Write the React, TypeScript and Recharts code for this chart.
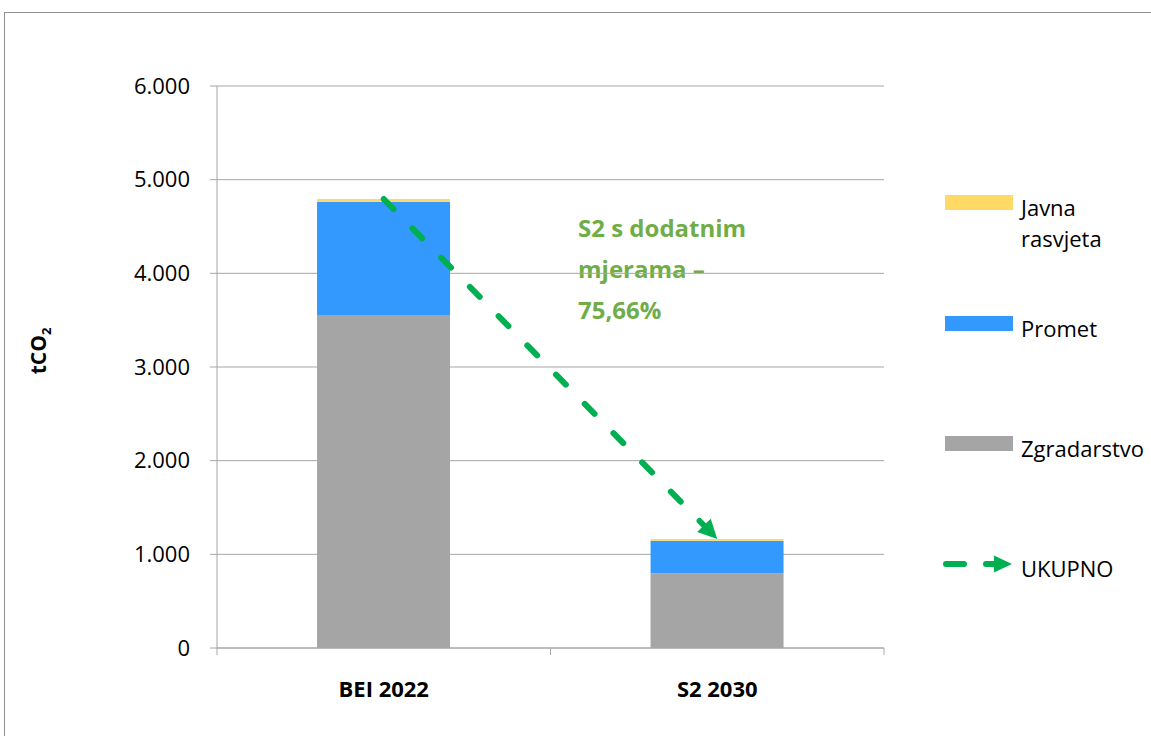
import React from 'react'
import { ComposedChart, Bar, Line, XAxis, YAxis, CartesianGrid } from 'recharts'

const categories = ['BEI 2022', 'S2 2030']
const zgradarstvo = [3555, 797]
const promet = [1210, 348]
const javnaRasvjeta = [28, 19]
const ukupno = [4793, 1164]
const yTicks = [0, 1000, 2000, 3000, 4000, 5000, 6000]

const seriesNames = ['Javna rasvjeta', 'Promet', 'Zgradarstvo', 'UKUPNO']
const seriesColors = ['#FFD966', '#3399FF', '#A5A5A5', '#00B050']
const annotationLines = ['S2 s dodatnim', 'mjerama –', '75,66%']

const FONT = '"Open Sans", Lato, sans-serif'
const GRID = '#a6a6a6'

const data = categories.map((name, i) => ({
  name,
  zgradarstvo: zgradarstvo[i],
  promet: promet[i],
  javna: javnaRasvjeta[i],
  ukupno: ukupno[i],
}))

const fmt = (v: number) => String(v).replace(/\B(?=(\d{3})+(?!\d))/g, '.')

// category label in the middle, tick marks on the band edges (like Excel)
function CategoryTick(props: any) {
  const { x, y, payload } = props
  const half = payload.offset || 0
  return (
    <g>
      <line x1={x - half} x2={x - half} y1={y} y2={y + 7} stroke={GRID} />
      <line x1={x + half} x2={x + half} y1={y} y2={y + 7} stroke={GRID} />
      <text x={x} y={y + 49} textAnchor="middle" fontFamily={FONT} fontWeight={700} fontSize={22} fill="#000">
        {payload.value}
      </text>
    </g>
  )
}

function ArrowDot(props: any) {
  const { cx, cy, index, points } = props
  if (index !== data.length - 1 || !points || points.length < 2) return <g key={`d-${index}`} />
  const prev = points[index - 1]
  const dx = cx - prev.x
  const dy = cy - prev.y
  const len = Math.sqrt(dx * dx + dy * dy)
  const ux = dx / len
  const uy = dy / len
  const bx = cx - ux * 19
  const by = cy - uy * 19
  const px = -uy * 9.5
  const py = ux * 9.5
  return (
    <polygon
      key={`d-${index}`}
      points={`${cx},${cy} ${bx + px},${by + py} ${bx - px},${by - py}`}
      fill={seriesColors[3]}
    />
  )
}

function YTitle() {
  return (
    <text transform="translate(46,351) rotate(-90)" textAnchor="middle" fontFamily={FONT} fontWeight={700} fontSize={21} fill="#000">
      tCO<tspan fontSize={13} dy={5}>2</tspan>
    </text>
  )
}

const legendTops = [195, 316, 436, 564]

export default function App() {
  return (
    <div style={{ position: 'fixed', left: 0, top: 0, width: 1151, height: 736, overflow: 'hidden', background: '#fff' }}>
      <div style={{ position: 'absolute', left: 4, top: 12, width: 1200, height: 800, borderLeft: '1px solid #909090', borderTop: '1px solid #909090' }} />

      <div
        style={{
          position: 'absolute',
          left: 578,
          top: 207,
          fontFamily: FONT,
          fontWeight: 700,
          fontSize: 24,
          lineHeight: '41px',
          color: '#70AD47',
          whiteSpace: 'nowrap',
        }}
      >
        {annotationLines.map((l) => (
          <div key={l}>{l}</div>
        ))}
      </div>

      <div style={{ position: 'absolute', left: 0, top: 0 }}>
        <ComposedChart width={1151} height={736} data={data} margin={{ top: 86, right: 267, bottom: 28, left: 0 }} barCategoryGap="30%">
          <CartesianGrid vertical={false} stroke={GRID} />
          <XAxis
            dataKey="name"
            height={60}
            axisLine={{ stroke: GRID }}
            tickLine={false}
            tickSize={0}
            tickMargin={0}
            tick={<CategoryTick />}
            interval={0}
          />
          <YAxis
            width={217}
            domain={[0, 6000]}
            ticks={yTicks}
            tickFormatter={fmt}
            axisLine={{ stroke: GRID }}
            tickLine={{ stroke: GRID }}
            tickSize={7}
            tickMargin={20}
            tick={{ fontFamily: FONT, fontSize: 22, fill: '#000' }}
            label={<YTitle />}
          />
          <Bar dataKey="zgradarstvo" stackId="a" fill={seriesColors[2]} isAnimationActive={false} />
          <Bar dataKey="promet" stackId="a" fill={seriesColors[1]} isAnimationActive={false} />
          <Bar dataKey="javna" stackId="a" fill={seriesColors[0]} isAnimationActive={false} />
          <Line
            type="linear"
            dataKey="ukupno"
            stroke={seriesColors[3]}
            strokeWidth={6}
            strokeDasharray="14 27"
            strokeLinecap="round"
            dot={<ArrowDot />}
            activeDot={false}
            isAnimationActive={false}
          />
        </ComposedChart>
      </div>

      {seriesNames.map((name, i) => {
        const top = legendTops[i]
        const isLine = i === 3
        return (
          <div key={name}>
            {isLine ? (
              <svg style={{ position: 'absolute', left: 940, top: top - 10 }} width={76} height={20}>
                <line x1={6} x2={24} y1={10} y2={10} stroke={seriesColors[3]} strokeWidth={6} strokeLinecap="round" />
                <line x1={46} x2={56} y1={10} y2={10} stroke={seriesColors[3]} strokeWidth={6} strokeLinecap="round" />
                <polygon points="72,10 54,1.5 54,18.5" fill={seriesColors[3]} />
              </svg>
            ) : (
              <div style={{ position: 'absolute', left: 945, top, width: 68, height: 15, background: seriesColors[i] }} />
            )}
            <div
              style={{
                position: 'absolute',
                left: 1021,
                top: isLine ? top - 11 : top - 3,
                width: 128,
                fontFamily: FONT,
                fontSize: 22,
                lineHeight: '31px',
                color: '#000',
              }}
            >
              {name}
            </div>
          </div>
        )
      })}
    </div>
  )
}
